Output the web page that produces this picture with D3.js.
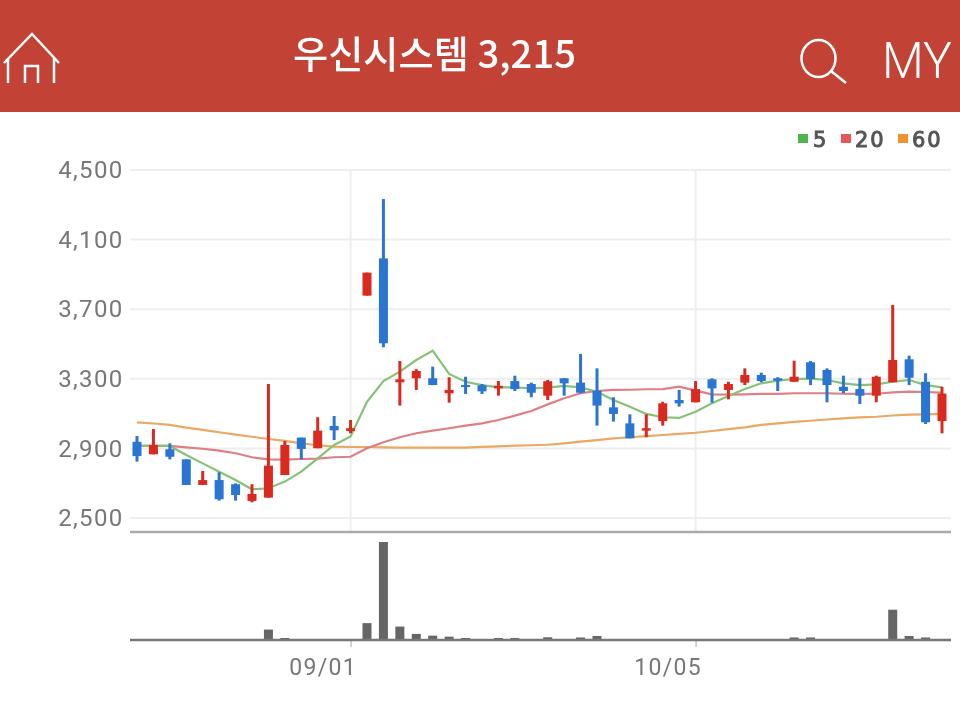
<!DOCTYPE html>
<html>
<head>
<meta charset="utf-8">
<script src="https://cdn.jsdelivr.net/npm/d3@7"></script>
<style>
  html, body { margin: 0; padding: 0; background: #fff; }
  svg { display: block; filter: blur(0.5px); }
  text { font-family: Roboto, "Noto Sans", sans-serif; }
</style>
</head>
<body>
<svg id="chart" width="960" height="718"></svg>
<script>
const stockName = "우신시스템";
const lastPrice = "3,215";

const days = ["08/12","08/13","08/14","08/18","08/19","08/20","08/21","08/24","08/25","08/26","08/27","08/28","08/31",
  "09/01","09/02","09/03","09/04","09/07","09/08","09/09","09/10","09/11","09/14","09/15","09/16","09/17","09/18",
  "09/21","09/22","09/23","09/24","09/25","09/28","09/29","10/05","10/06","10/07","10/08","10/12","10/13","10/14",
  "10/15","10/16","10/19","10/20","10/21","10/22","10/23","10/26","10/27"];

const opens = [2938,2866,2895,2837,2690,2718,2694,2598,2617,2747,2962,2901,3029,3000,3778,3992,3280,3303,3303,3217,
  3264,3263,3245,3287,3270,3203,3303,3278,3232,3136,3044,3002,3057,3178,3165,3297,3236,3278,3322,3303,
  3283,3395,3351,3254,3241,3203,3280,3412,3283,3057];
const highs = [2971,3011,2929,2837,2770,2763,2699,2694,3270,2943,2962,3079,3086,3063,3910,4333,3402,3355,3370,3309,
  3312,3270,3287,3318,3278,3293,3303,3443,3360,3194,3096,3096,3168,3236,3287,3303,3283,3360,3335,3309,
  3404,3402,3360,3318,3303,3318,3724,3433,3332,3254];
const lows = [2824,2866,2837,2690,2690,2600,2600,2590,2617,2747,2837,2901,2948,2987,3778,3481,3146,3236,3264,3163,
  3213,3213,3203,3230,3194,3178,3203,3217,3031,3054,2958,2964,3031,3140,3165,3163,3182,3264,3280,3230,
  3283,3264,3165,3217,3155,3165,3280,3264,3040,2987];
const closes = [2856,2920,2852,2690,2718,2608,2632,2638,2801,2920,2897,3002,3004,3016,3910,3504,3297,3345,3264,3236,
  3254,3228,3260,3241,3220,3286,3274,3220,3146,3098,2958,3016,3159,3159,3241,3245,3270,3322,3287,3289,
  3312,3299,3264,3230,3203,3312,3408,3306,3050,3215];

const ma5 = [2914,2914,2914,2862,2814,2766,2718,2665,2671,2709,2766,2843,2920,2969,3168,3287,3341,3408,3462,3328,
  3283,3264,3251,3251,3245,3249,3259,3251,3226,3178,3140,3098,3079,3075,3111,3159,3201,3241,3274,3289,
  3299,3301,3293,3274,3264,3268,3283,3293,3264,3251];
const ma20 = [2914,2914,2914,2906,2898,2887,2872,2849,2837,2835,2839,2841,2849,2852,2901,2935,2964,2987,3002,3016,
  3031,3044,3063,3088,3115,3153,3188,3217,3230,3236,3237,3240,3241,3255,3232,3211,3209,3211,3213,3213,
  3217,3217,3217,3214,3213,3214,3222,3226,3224,3220];
const ma60 = [3050,3043,3035,3019,3006,2993,2979,2967,2954,2943,2929,2918,2910,2908,2908,2906,2904,2904,2904,2904,
  2904,2909,2912,2916,2918,2921,2929,2939,2948,2958,2964,2970,2977,2983,2990,3000,3011,3021,3035,3044,
  3052,3059,3066,3073,3078,3082,3089,3094,3096,3098];

const volumes = [60,60,60,60,60,60,60,60,1030,200,60,60,60,60,1670,9700,1330,600,430,330,
  200,60,200,200,60,270,60,250,400,60,60,60,60,60,60,60,60,60,60,60,
  250,250,60,60,60,60,3000,400,250,60];

const yTicks = [2500,2900,3300,3700,4100,4500];
const xTicks = ["09/01","10/05"];
const legendLabels = ["5","20","60"];
const legendColors = ["#4cb648","#e8555a","#f0922e"];
const lineColors = ["#86c276","#de7f85","#eaa862"];

const svg = d3.select("#chart");
const left = 130, right = 951;

const x = d3.scalePoint().domain(days).range([137, 942]);
const y = d3.scaleLinear().domain([2500, 4500]).range([518, 170]);
const yVol = d3.scaleLinear().domain([0, 9700]).range([640, 542]);

// header
svg.append("rect").attr("width", 960).attr("height", 112).attr("fill", "#c24335");
svg.append("text")
  .attr("x", 293).attr("y", 68)
  .attr("fill", "#fff")
  .attr("font-size", 38)
  .attr("font-weight", 500)
  .attr("textLength", 283)
  .attr("lengthAdjust", "spacingAndGlyphs")
  .style("font-family", '"Noto Sans CJK KR"')
  .text(stockName + " " + lastPrice);

const icons = svg.append("g").attr("fill", "none").attr("stroke", "#fff").attr("stroke-width", 2.5);
icons.append("path").attr("d", "M4 63 L32 34 L59 63 M8 58 V83 M54 58 V83 M25 83 V66 H38 V83");
icons.append("ellipse").attr("cx", 818.5).attr("cy", 58.5).attr("rx", 17).attr("ry", 18.5);
icons.append("path").attr("d", "M831 71 L846 83");
svg.append("text")
  .attr("x", 882).attr("y", 78)
  .attr("fill", "#fff")
  .attr("font-size", 50)
  .attr("font-weight", 300)
  .attr("textLength", 70)
  .attr("lengthAdjust", "spacingAndGlyphs")
  .text("MY");

// legend
const legendX = [798, 841, 898], legendTextX = [813, 855, 912];
const legend = svg.append("g");
legendLabels.forEach((d, i) => {
  legend.append("rect").attr("x", legendX[i]).attr("y", 134).attr("width", 10).attr("height", 9).attr("fill", legendColors[i]);
  legend.append("text").attr("x", legendTextX[i]).attr("y", 147)
    .attr("fill", "#555").attr("stroke", "#555").attr("stroke-width", 1)
    .attr("font-size", 21).attr("letter-spacing", 2)
    .style("font-family", '"DejaVu Sans"')
    .text(d);
});

// grid and y axis
const yAxis = svg.append("g")
  .attr("transform", `translate(${left},0)`)
  .call(d3.axisLeft(y).tickValues(yTicks).tickFormat(d3.format(",")).tickSize(0).tickPadding(6.5));
yAxis.select(".domain").remove();
yAxis.selectAll("text")
  .attr("font-size", 24).attr("fill", "#777").attr("letter-spacing", 1.3)
  .style("font-family", "Roboto");

svg.append("g").selectAll("line").data(yTicks).join("line")
  .attr("x1", left).attr("x2", right)
  .attr("y1", d => y(d)).attr("y2", d => y(d))
  .attr("stroke", "#eeeeee").attr("stroke-width", 2);
svg.append("g").selectAll("line").data(xTicks).join("line")
  .attr("x1", d => x(d)).attr("x2", d => x(d))
  .attr("y1", 170).attr("y2", 531)
  .attr("stroke", "#eeeeee").attr("stroke-width", 2);

// moving averages
const line = d3.line().x((d, i) => x(days[i])).y(d => y(d));
[ma60, ma20, ma5].forEach((s, i) => {
  svg.append("path").datum(s)
    .attr("fill", "none")
    .attr("stroke", lineColors[2 - i])
    .attr("stroke-width", 2.2)
    .attr("d", line);
});

// candles
const idx = d3.range(days.length);
const candleColor = i => closes[i] >= opens[i] ? "#da2a20" : "#2b75d2";
const candles = svg.append("g");
candles.selectAll("line").data(idx).join("line")
  .attr("x1", i => x(days[i])).attr("x2", i => x(days[i]))
  .attr("y1", i => y(highs[i])).attr("y2", i => y(lows[i]))
  .attr("stroke", candleColor).attr("stroke-width", 3);
candles.selectAll("rect").data(idx).join("rect")
  .attr("x", i => x(days[i]) - 4.5)
  .attr("width", 9)
  .attr("y", i => y(Math.max(opens[i], closes[i])))
  .attr("height", i => Math.max(2, Math.abs(y(opens[i]) - y(closes[i]))))
  .attr("fill", candleColor);

// separator between panels
svg.append("line").attr("x1", left).attr("x2", right).attr("y1", 532).attr("y2", 532)
  .attr("stroke", "#aaaaaa").attr("stroke-width", 2.5);

// volume
svg.append("g").selectAll("rect").data(idx).join("rect")
  .attr("x", i => x(days[i]) - 4.5)
  .attr("width", 9)
  .attr("y", i => yVol(volumes[i]))
  .attr("height", i => yVol(0) - yVol(volumes[i]))
  .attr("fill", "#666");

// date labels sit to the left of their tick
const xAxis = svg.append("g")
  .attr("transform", "translate(0,640)")
  .call(d3.axisBottom(x).tickValues(xTicks).tickSize(7).tickPadding(12));
xAxis.select(".domain").remove();
xAxis.selectAll("line").attr("stroke", "#aaa");
xAxis.selectAll("text")
  .attr("text-anchor", "end").attr("dx", 6)
  .attr("font-size", 23).attr("fill", "#777").attr("letter-spacing", 1.3)
  .style("font-family", "Roboto");

svg.append("line").attr("x1", left).attr("x2", right).attr("y1", 640).attr("y2", 640)
  .attr("stroke", "#777").attr("stroke-width", 2.5);
</script>
</body>
</html>
